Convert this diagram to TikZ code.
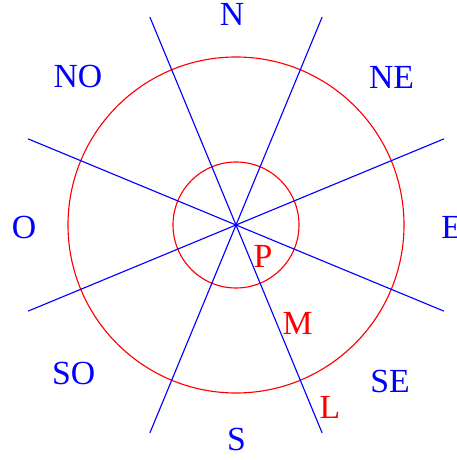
\documentclass[tikz,border=0pt]{standalone}
\usepackage{fontspec}
\setmainfont{Liberation Serif}
\usepackage{xcolor}
\usepackage{tikz}
\usetikzlibrary{positioning,calc}

\begin{document}
\begin{tikzpicture}[
    ray/.style={blue, line width=0.8pt},
    ring/.style={red, line width=0.8pt},
    wind/.style={text=blue, inner sep=0pt, font=\fontsize{24}{28}\selectfont},
    zone/.style={text=red, inner sep=0pt, font=\fontsize{24}{28}\selectfont},
]
\useasboundingbox (-5.9,-5.875) rectangle (5.5,5.625);
\coordinate (c) at (0,0);

% circles
\draw[ring] (c) circle (1.575);
\draw[ring] (c) circle (4.2);

% rays through the centre
\foreach \a in {22.5,67.5,112.5,157.5}
  \draw[ray] ($(c)+(\a:5.625)$) -- ($(c)+(\a+180:5.625)$);

% wind directions
\node[wind] (n)  at (-0.1, 5.275) {N};
\node[wind] (ne) at (3.89, 3.7) {NE};
\node[wind] (e)  at (5.39, -0.06) {E};
\node[wind] (se) at (3.85, -3.9) {SE};
\node[wind] (s)  at (0.0125, -5.36) {S};
\node[wind] (so) at (-4.06, -3.7) {SO};
\node[wind] (o)  at (-5.3, -0.06) {O};
\node[wind] (no) at (-3.95, 3.7) {NO};

% zones
\node[zone] (p) at (0.675, -0.79) {P};
\node[zone] (m) at (1.54, -2.45) {M};
\node[zone] (l) at (2.35, -4.56) {L};
\end{tikzpicture}
\end{document}
